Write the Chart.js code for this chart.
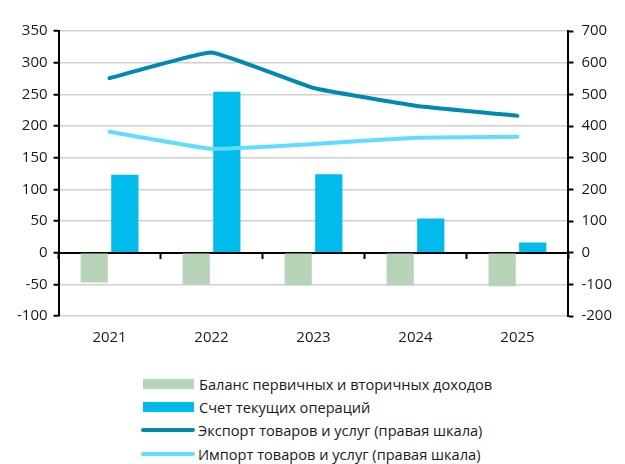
<!DOCTYPE html>
<html><head><meta charset="utf-8">
<script src="https://cdn.jsdelivr.net/npm/chart.js@4.4.1/dist/chart.umd.min.js"></script>
<style>
html,body{margin:0;padding:0;background:#fff;}
#wrap{position:absolute;left:0;top:0;width:625px;height:360px;}
#legend{position:absolute;left:142px;top:372px;font-family:'Open Sans',sans-serif;font-size:14.6px;color:#1a1a1a;}
.item{display:flex;align-items:center;height:23.3px;white-space:nowrap;}
.sw{margin-right:5px;flex:none;}
</style></head><body>
<div id="wrap"><canvas id="c"></canvas></div>
<div id="legend"></div>
<script>
const categories = ['2021','2022','2023','2024','2025'];
const incomeBalance = [-47, -50, -51.5, -52, -53];
const currentAccount = [123, 254, 124, 54, 16];
const exportsGS = [551, 632, 520, 464, 432];
const importsGS = [382, 328, 343, 363, 366];
const seriesNames = [
  'Баланс первичных и вторичных доходов',
  'Счет текущих операций',
  'Экспорт товаров и услуг (правая шкала)',
  'Импорт товаров и услуг (правая шкала)'
];
const leftAxis = {min: -100, max: 350, step: 50};
const rightAxis = {min: -200, max: 700, step: 100};

const colors = ['#b7d4b9', '#00bbec', '#0089b1', '#5fdcff'];
const FONT = {family: "'Open Sans', sans-serif", size: 15};
const TXT = '#1a1a1a';

const chart = new Chart(document.getElementById('c'), {
  data: {
    labels: categories,
    datasets: [
      {type:'line', label: seriesNames[2], data: exportsGS, yAxisID:'y2', borderColor: colors[2], borderWidth: 4, pointRadius: 0, tension: 0.1, borderCapStyle:'round', order: 0},
      {type:'line', label: seriesNames[3], data: importsGS, yAxisID:'y2', borderColor: colors[3], borderWidth: 4, pointRadius: 0, tension: 0.1, borderCapStyle:'round', order: 0},
      {type:'bar', label: seriesNames[0], data: incomeBalance, yAxisID:'y', backgroundColor: colors[0], categoryPercentage: 0.6, barPercentage: 0.89, order: 1},
      {type:'bar', label: seriesNames[1], data: currentAccount, yAxisID:'y', backgroundColor: colors[1], categoryPercentage: 0.6, barPercentage: 0.89, order: 1}
    ]
  },
  options: {
    responsive: true,
    maintainAspectRatio: false,
    animation: false,
    layout: {padding: {left: 11, right: 5, top: 31, bottom: 0}},
    plugins: {legend: {display: false}, tooltip: {enabled: false}},
    scales: {
      x: {
        position: 'bottom',
        grid: {display: false, drawTicks: false},
        border: {display: false},
        ticks: {font: FONT, color: TXT, padding: 13}
      },
      xz: {
        type: 'category',
        position: {y: 0},
        axis: 'x',
        offset: true,
        grid: {offset: true, drawOnChartArea: false, drawTicks: true, tickLength: 5, tickWidth: 2, tickColor: '#000'},
        border: {display: true, color: '#000', width: 2},
        ticks: {display: false}
      },
      y: {
        position: 'left',
        min: leftAxis.min, max: leftAxis.max,
        ticks: {stepSize: leftAxis.step, font: FONT, color: TXT, padding: 6},
        grid: {color: '#d0d0d0', lineWidth: 1.5, drawTicks: true, tickLength: 5, tickColor: '#000', tickWidth: 2},
        border: {display: true, color: '#000', width: 2}
      },
      y2: {
        position: 'right',
        min: rightAxis.min, max: rightAxis.max,
        ticks: {stepSize: rightAxis.step, font: FONT, color: TXT, padding: 8},
        grid: {drawOnChartArea: false, drawTicks: true, tickLength: 5, tickColor: '#000', tickWidth: 2},
        border: {display: true, color: '#000', width: 2}
      }
    }
  }
});

// HTML legend built from the datasets
const legendOrder = [2, 3, 0, 1];
const lg = document.getElementById('legend');
legendOrder.forEach(i => {
  const ds = chart.data.datasets[i];
  const row = document.createElement('div');
  row.className = 'item';
  const sw = document.createElement('div');
  sw.className = 'sw';
  if (ds.type === 'bar') {
    sw.style.cssText = `width:51px;height:10px;background:${ds.backgroundColor};margin-left:1px;margin-right:5px;`;
  } else {
    sw.style.cssText = `width:54px;height:4px;border-radius:2px;background:${ds.borderColor};margin-left:-1px;margin-right:3px;`;
  }
  const t = document.createElement('span');
  t.textContent = ds.label;
  row.appendChild(sw); row.appendChild(t);
  lg.appendChild(row);
});
</script>
</body></html>
